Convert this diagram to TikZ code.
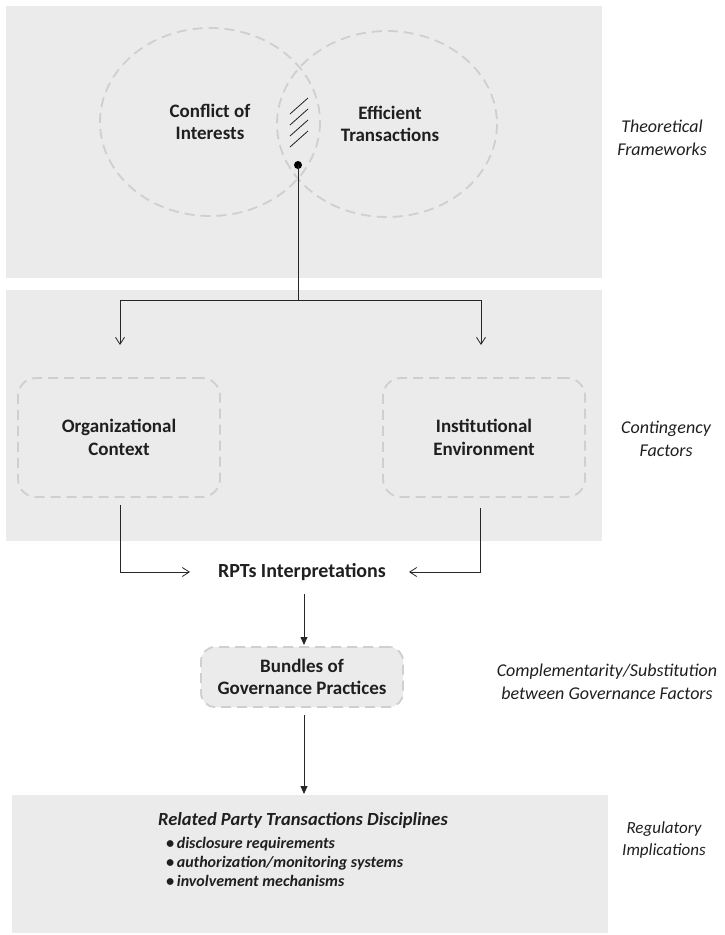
\documentclass[tikz,border=0pt]{standalone}
\usepackage{fontspec}
\setmainfont{Carlito}
\usetikzlibrary{arrows.meta}
\definecolor{panel}{HTML}{EBEBEB}
\definecolor{dashc}{HTML}{CFCFCF}
\begin{document}
\begin{tikzpicture}[x=1pt,y=-1pt,
  panelbox/.style={fill=panel,draw=none},
  dashbox/.style={draw=dashc,line width=1.8pt,dash pattern=on 10pt off 6pt,rounded corners=18pt,fill=panel},
  dashell/.style={draw=dashc,line width=1.8pt,dash pattern=on 10pt off 6pt},
  lbl/.style={font=\fontsize{19}{22.5}\selectfont\bfseries,align=center,text=black!88},
  side/.style={font=\fontsize{18}{22.5}\selectfont\itshape,align=center,text=black!88},
  conn/.style={line width=0.8pt,draw=black!85},
  openarr/.style={conn,-{Straight Barb[length=7pt,width=9pt,line width=0.8pt]}},
  fillarr/.style={conn,-{Triangle[length=8pt,width=7pt]}}]
\useasboundingbox (0,0) rectangle (724,935);
% panels
\fill[panelbox] (6,6) rectangle (602,278);
\fill[panelbox] (6,290) rectangle (602,541);
\fill[panelbox] (12,795) rectangle (608,933);
% ellipses
\draw[dashell] (210,122) ellipse [x radius=110, y radius=94];
\draw[dashell] (387,124) ellipse [x radius=110, y radius=93];
\node[lbl] (coi) at (210,122) {Conflict of\\Interests};
\node[lbl] (eft) at (390,124) {Efficient\\Transactions};
% hatch
\foreach \i in {0,1,2,3}
  \draw[line width=0.8pt,black!85] (290,114+\i*11) -- (308,98+\i*11);
% dot and split
\fill[black] (298,165) circle (4);
\coordinate (dot) at (298,165);
\coordinate (split) at (298,300);
\coordinate (lt) at (120,300);
\coordinate (rt) at (481,300);
\node[dashbox,minimum width=202pt,minimum height=119pt,lbl] (org) at (119,437.5) {Organizational\\Context};
\node[dashbox,minimum width=202pt,minimum height=119pt,lbl] (inst) at (484,437.5) {Institutional\\Environment};
\draw[conn] (dot) -- (split);
\draw[openarr] (split) -- (lt) -- (120,345);
\draw[openarr] (split) -- (rt) -- (481,345);
% RPTs
\node[lbl,font=\fontsize{20}{24}\selectfont\bfseries] (rpt) at (302,572) {RPTs Interpretations};
\coordinate (lin) at (190,572);
\coordinate (rin) at (409,572);
\draw[openarr] (120,505) -- (120,572) -- (lin);
\draw[openarr] (480,508) -- (480,572) -- (rin);
% bundles
\node[dashbox,minimum width=202pt,minimum height=60pt,rounded corners=14pt,lbl] (bun) at (302,677) {Bundles of\\Governance Practices};
\draw[fillarr] (304,594) -- (304,645);
% bottom
\node[font=\fontsize{18.5}{22}\selectfont\bfseries\itshape,text=black!88] (rptd) at (303,820) {Related Party Transactions Disciplines};
\node[font=\fontsize{16}{19}\selectfont\bfseries\itshape,text=black!88,align=left,anchor=north west,inner sep=0pt] (list) at (166,837)
  {\textbullet\,disclosure requirements\\ \textbullet\,authorization/monitoring systems\\ \textbullet\,involvement mechanisms};
\draw[fillarr] (304,715) -- (304,794);
% side labels
\node[side] (s1) at (662,138) {Theoretical\\Frameworks};
\node[side] (s2) at (666,439) {Contingency\\Factors};
\node[side] (s3) at (607,682) {Complementarity/Substitution\\between Governance Factors};
\node[side,font=\fontsize{17}{22.5}\selectfont\itshape] (s4) at (664,840) {Regulatory\\Implications};
\end{tikzpicture}
\end{document}
